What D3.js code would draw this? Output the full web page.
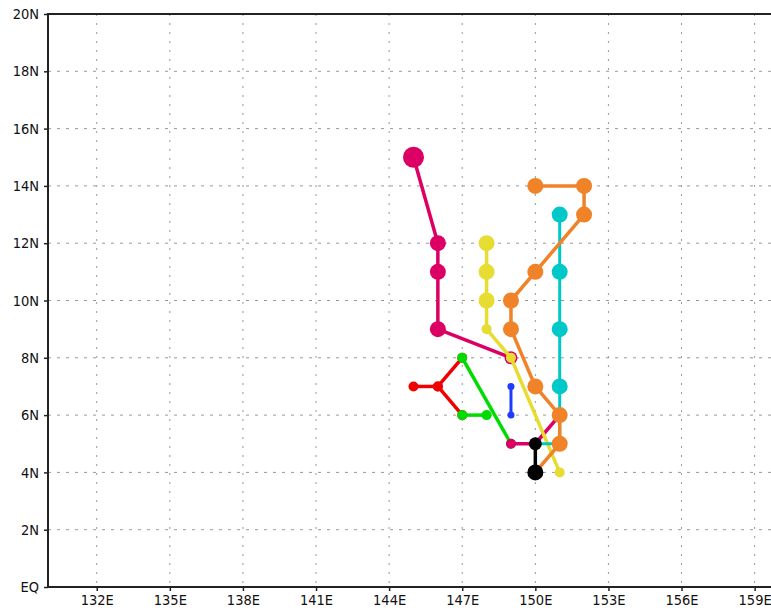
<!DOCTYPE html>
<html>
<head>
<meta charset="utf-8">
<script src="https://cdn.jsdelivr.net/npm/d3@7"></script>
<style>
  html, body { margin: 0; padding: 0; background: #fff; overflow: hidden; }
  .tick text { font-family: "DejaVu Sans Condensed", "DejaVu Sans", sans-serif; }
</style>
</head>
<body>
<div id="chart"></div>
<script>
// tick values
const lonTicks = [132, 135, 138, 141, 144, 147, 150, 153, 156, 159];
const latTicks = [0, 2, 4, 6, 8, 10, 12, 14, 16, 18, 20];

// tracks: [lon, lat, category]
const redA = [[147, 6, 2], [146, 7, 2], [147, 8, 2]];
const redB = [[146, 7, 2], [145, 7, 2]];
const greenA = [[147, 8, 2], [149, 5, 2]];
const greenB = [[147, 6, 2], [148, 6, 2]];
const magentaA = [[145, 15, 5], [146, 12, 4], [146, 11, 4], [146, 9, 4], [149, 8, 3]];
const magentaB = [[149, 5, 2], [150, 5, 2], [151, 6, 2]];
const yellow = [[148, 12, 4], [148, 11, 4], [148, 10, 4], [148, 9, 2], [149, 8, 2], [151, 4, 2]];
const cyan = [[151, 13, 4], [151, 11, 4], [151, 9, 4], [151, 7, 4], [151, 6, 2], [151, 5, 2], [150, 5, 2]];
const orange = [[150, 14, 4], [152, 14, 4], [152, 13, 4], [150, 11, 4], [149, 10, 4], [149, 9, 4],
  [150, 7, 4], [151, 6, 4], [151, 5, 4], [150, 4, 2]];
const blue = [[149, 7, 1], [149, 6, 1]];
const black = [[150, 5, 3], [150, 4, 4]];

// drawing order (bottom -> top)
const tracks = [
  { pts: redA, color: '#f00000', w: 3.5 },
  { pts: redB, color: '#f00000', w: 3.5 },
  { pts: greenA, color: '#00dc00', w: 3.5 },
  { pts: greenB, color: '#00dc00', w: 3.5 },
  { pts: magentaA, color: '#dc0064', w: 3.5 },
  { pts: magentaB, color: '#dc0064', w: 3.5 },
  { pts: yellow, color: '#e6dc32', w: 3.5 },
  { pts: cyan, color: '#00c8c8', w: 3 },
  { pts: orange, color: '#f08228', w: 3.5 },
  { pts: blue, color: '#1e3cff', w: 3 },
  { pts: black, color: '#000000', w: 3.5 }
];

const svgWidth = 771;
const svgHeight = 611;
const svg = d3.select('#chart')
  .append('svg')
  .attr('width', svgWidth)
  .attr('height', svgHeight);

// scales
const x = d3.scaleLinear().domain([130, 160]).range([48, 779]);
const y = d3.scaleLinear().domain([0, 20]).range([587, 14]);
const r = d3.scaleOrdinal().domain([1, 2, 3, 4, 5]).range([3.5, 5, 6.5, 8, 10.5]);

// grid
svg.append('g')
  .selectAll('line')
  .data(lonTicks)
  .join('line')
  .attr('x1', d => x(d)).attr('x2', d => x(d))
  .attr('y1', y(20)).attr('y2', y(0))
  .attr('stroke', '#999')
  .attr('stroke-width', 1)
  .attr('stroke-dasharray', '2,7');

svg.append('g')
  .selectAll('line')
  .data(latTicks.filter(d => d > 0 && d < 20))
  .join('line')
  .attr('x1', x(130)).attr('x2', svgWidth)
  .attr('y1', d => y(d)).attr('y2', d => y(d))
  .attr('stroke', '#999')
  .attr('stroke-width', 1)
  .attr('stroke-dasharray', '3,6');

// axes
const xAxis = svg.append('g')
  .attr('transform', `translate(0,${y(0)})`)
  .call(d3.axisBottom(x).tickValues(lonTicks).tickSize(4).tickPadding(4)
    .tickFormat(d => `${d}E`));
const yAxis = svg.append('g')
  .attr('transform', `translate(${x(130)},0)`)
  .call(d3.axisLeft(y).tickValues(latTicks).tickSize(4).tickPadding(5)
    .tickFormat(d => (d === 0 ? 'EQ' : `${d}N`)));

[xAxis, yAxis].forEach(a => {
  a.select('.domain').remove();
  a.selectAll('.tick line').attr('stroke', '#222').attr('stroke-width', 1.5);
  a.selectAll('.tick text').attr('fill', '#111').style('font-size', '14.5px');
});

// frame
svg.append('path')
  .attr('d', `M${svgWidth},${y(20)}H${x(130)}V${y(0)}H${svgWidth}`)
  .attr('fill', 'none')
  .attr('stroke', '#222')
  .attr('stroke-width', 2);

// tracks
const line = d3.line()
  .x(d => x(d[0]))
  .y(d => y(d[1]));

const trackGroup = svg.append('g')
  .selectAll('g')
  .data(tracks)
  .join('g');

trackGroup.append('path')
  .attr('d', d => line(d.pts))
  .attr('fill', 'none')
  .attr('stroke', d => d.color)
  .attr('stroke-width', d => d.w)
  .attr('stroke-linejoin', 'round');

trackGroup.selectAll('circle')
  .data(d => d.pts.map(p => ({ p, color: d.color })))
  .join('circle')
  .attr('cx', d => x(d.p[0]))
  .attr('cy', d => y(d.p[1]))
  .attr('r', d => r(d.p[2]))
  .attr('fill', d => d.color);
</script>
</body>
</html>
